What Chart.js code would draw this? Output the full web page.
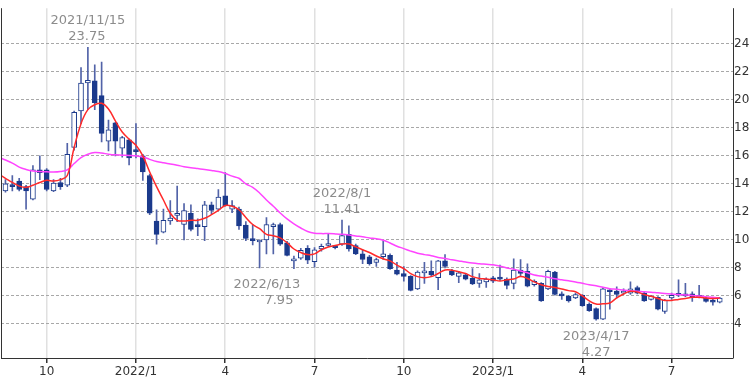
<!DOCTYPE html>
<html><head><meta charset="utf-8">
<script src="https://cdn.jsdelivr.net/npm/chart.js@4/dist/chart.umd.min.js"></script>
<style>html,body{margin:0;padding:0;background:#fff;}#wrap{width:750px;height:382px;}</style>
</head><body><div id="wrap"><canvas id="c" width="750" height="382"></canvas></div>
<script>
// Weekly candles, week 0 = 2021/8/23
const openP = [13.5,13.9,14.2,13.8,12.9,15.0,15.0,13.5,14.1,13.9,
16.6,19.2,21.2,21.35,20.3,17.05,18.35,16.55,17.15,16.4,
16.0,14.6,11.35,10.55,11.35,11.75,11.1,11.9,11.05,10.95,
12.5,12.2,13.15,12.2,12.2,11.05,10.1,9.85,10.0,10.95,
11.1,9.8,8.5,8.7,9.4,8.45,9.35,9.6,9.5,9.7,
10.4,9.6,9.0,8.8,8.4,8.8,8.9,7.85,7.6,7.4,
6.5,7.65,7.75,7.3,8.5,7.8,7.4,7.5,7.25,6.9,
7.0,7.3,7.25,7.2,6.9,7.85,7.75,6.8,6.9,6.5,
7.7,6.1,5.98,5.85,6.05,5.4,5.1,4.35,6.4,6.35,
6.2,6.2,6.6,6.2,5.75,5.9,4.9,5.85,6.05,6.05,
6.15,5.9,5.85,5.6,5.55];
const highP = [14.3,14.6,14.4,13.9,15.3,16.0,15.1,14.3,14.4,16.9,
19.2,22.3,23.75,22.5,22.7,18.55,18.4,17.4,17.2,18.3,
16.1,14.7,12.15,12.2,12.8,13.85,12.6,12.5,11.5,12.75,
12.7,13.6,14.8,12.8,12.35,11.3,11.1,10.0,11.6,11.2,
11.2,9.9,8.85,9.4,9.6,9.45,9.7,10.4,9.6,11.41,
11.0,9.7,9.3,8.9,8.7,9.95,9.0,8.4,8.1,7.45,
7.8,8.4,8.5,8.55,8.95,7.9,7.75,7.6,7.95,7.6,
7.3,7.4,8.2,7.3,8.65,8.6,8.3,7.15,6.95,7.85,
7.75,6.3,6.05,6.2,6.1,5.5,5.15,6.6,6.45,6.65,
6.5,7.0,6.7,6.25,6.05,5.95,5.75,6.2,7.15,6.9,
6.3,6.75,5.9,5.75,5.9];
const lowP = [13.4,13.5,13.5,12.2,12.85,14.3,13.5,13.45,13.6,13.8,
16.4,18.3,19.3,19.3,17.0,16.35,16.0,15.9,15.35,15.85,
14.25,11.8,9.7,10.5,11.1,11.3,10.0,10.65,10.3,9.95,
11.85,12.15,12.4,11.95,10.75,9.95,9.65,8.0,9.0,9.0,
9.6,8.85,7.95,8.6,8.3,8.05,9.2,9.55,9.35,9.6,
9.2,8.95,8.3,8.2,8.1,8.6,7.9,7.5,7.05,6.35,
6.45,6.9,7.4,6.45,8.0,7.45,6.95,7.15,6.8,6.6,
6.6,6.95,7.1,6.5,6.5,7.4,6.65,6.7,5.6,6.45,
6.05,5.75,5.55,5.8,5.25,4.9,4.27,4.3,5.05,5.85,
6.1,6.1,6.15,5.6,5.7,5.0,4.75,5.75,5.95,5.95,
5.6,5.85,5.55,5.35,5.5];
const closeP = [14.0,13.8,13.6,13.5,15.0,14.8,13.6,14.05,13.8,16.1,
19.1,21.2,21.4,19.8,17.6,17.85,17.05,17.3,15.85,16.3,
14.85,11.9,10.4,11.4,11.55,11.85,12.1,10.75,10.95,12.5,
12.1,13.05,12.45,12.45,11.0,10.1,9.95,9.95,11.1,11.1,
9.7,8.9,8.6,9.25,8.55,9.3,9.55,9.7,9.45,10.3,
9.35,9.0,8.6,8.3,8.6,9.0,7.95,7.55,7.4,6.4,
7.7,7.75,7.5,8.5,8.1,7.5,7.65,7.2,6.85,7.15,
7.2,7.05,7.2,6.75,7.85,7.6,6.7,7.05,5.65,7.75,
6.1,6.0,5.65,6.1,5.3,4.95,4.35,6.5,6.3,6.1,
6.35,6.5,6.2,5.65,5.98,5.05,5.7,6.05,6.1,6.0,
5.9,6.0,5.6,5.55,5.85];
// Moving averages, first value = week -1
const maShort = [14.7,14.4,14.1,13.85,13.75,13.9,14.1,14.25,14.2,14.3,
14.6,16.6,18.3,19.3,19.65,19.75,19.35,18.5,17.7,17.2,
16.75,16.0,14.85,13.8,12.85,11.9,11.4,11.35,11.4,11.4,
11.55,11.8,12.1,12.45,12.4,12.15,11.6,11.1,10.8,10.4,
10.3,10.15,9.8,9.35,9.1,8.95,9.0,9.3,9.5,9.6,
9.7,9.7,9.5,9.3,9.1,8.85,8.65,8.5,8.2,7.95,
7.6,7.38,7.3,7.38,7.6,7.85,7.84,7.73,7.6,7.38,
7.25,7.21,7.15,7.07,7.15,7.21,7.38,7.25,7.0,6.8,
6.68,6.6,6.5,6.38,6.3,6.0,5.65,5.42,5.44,5.5,
5.86,6.14,6.33,6.28,6.1,5.98,5.82,5.68,5.68,5.75,
5.82,5.9,5.9,5.86,5.82,5.86];
const maLong = [15.9,15.7,15.48,15.2,15.03,14.92,14.88,14.86,14.84,14.88,
15.0,15.45,15.88,16.12,16.24,16.2,16.12,16.07,16.05,16.03,
16.0,15.92,15.75,15.6,15.5,15.42,15.33,15.23,15.15,15.09,
15.03,14.96,14.88,14.74,14.55,14.4,14.0,13.75,13.35,12.85,
12.4,11.92,11.5,11.15,10.85,10.6,10.48,10.45,10.45,10.43,
10.4,10.35,10.28,10.22,10.14,10.08,9.98,9.78,9.55,9.38,
9.2,9.05,8.95,8.87,8.75,8.68,8.58,8.5,8.42,8.35,
8.3,8.26,8.22,8.12,8.0,7.9,7.78,7.65,7.5,7.42,
7.33,7.22,7.15,7.08,7.0,6.9,6.8,6.72,6.62,6.52,
6.48,6.42,6.37,6.34,6.3,6.27,6.22,6.18,6.14,6.1,
6.07,6.04,6.0,5.95,5.91,5.86];
const tickWeeks = [6,19,32,45,58,71,84,97];
const tickLabels = ['10','2022/1','4','7','10','2023/1','4','7'];
const yTickValues = [4,6,8,10,12,14,16,18,20,22,24];
const notes = [
  {week:12, date:'2021/11/15', kind:'high', shiftDate:0, shiftVal:-1},
  {week:42, date:'2022/6/13', kind:'low', shiftDate:-27, shiftVal:-15},
  {week:49, date:'2022/8/1', kind:'high', shiftDate:0, shiftVal:0},
  {week:86, date:'2023/4/17', kind:'low', shiftDate:0, shiftVal:0}
];

const NAVY = '#1b3a8c', WICK = '#5263a8';
const wickData = highP.map((h,i)=>({x:i, y:[lowP[i], h]}));
const bodyData = openP.map((o,i)=>({x:i, y:[o, closeP[i]]}));
const bodyFill = openP.map((o,i)=> closeP[i] >= o ? '#ffffff' : NAVY);
const shortData = maShort.map((v,i)=>({x:i-1, y:v}));
const longData = maLong.map((v,i)=>({x:i-1, y:v}));

const frame = {
  id:'frame',
  afterDraw(chart){
    const {ctx, chartArea:a} = chart;
    ctx.save();
    ctx.strokeStyle = '#333'; ctx.lineWidth = 1; ctx.setLineDash([]);
    ctx.beginPath();
    ctx.moveTo(a.left+0.5, a.top); ctx.lineTo(a.left+0.5, a.bottom);
    ctx.moveTo(a.right+0.5, a.top); ctx.lineTo(a.right+0.5, a.bottom);
    ctx.stroke();
    ctx.restore();
  }
};
const annot = {
  id:'annot',
  afterDatasetsDraw(chart){
    const {ctx, scales:{x, y}} = chart;
    ctx.save();
    ctx.font = '13px "DejaVu Sans"';
    ctx.fillStyle = '#8c8c8c';
    ctx.textAlign = 'center'; ctx.textBaseline = 'middle';
    notes.forEach(n => {
      const val = n.kind === 'high' ? highP[n.week] : lowP[n.week];
      const px = x.getPixelForValue(n.week);
      const py = y.getPixelForValue(val);
      if (n.kind === 'high') {
        ctx.fillText(n.date, px + n.shiftDate, py - 27);
        ctx.fillText(val.toFixed(2), px + n.shiftVal, py - 11);
      } else {
        ctx.fillText(n.date, px + n.shiftDate, py + 16);
        ctx.fillText(val.toFixed(2), px + n.shiftVal, py + 32);
      }
    });
    ctx.restore();
  }
};

new Chart(document.getElementById('c'), {
  type:'bar',
  data:{ datasets:[
    {type:'line', data:shortData, borderColor:'#ff2a2a', borderWidth:1.5, pointRadius:0, tension:0.4, order:0},
    {type:'line', data:longData, borderColor:'#ff44ff', borderWidth:1.5, pointRadius:0, tension:0.4, order:0},
    {data:bodyData, backgroundColor:bodyFill, borderColor:NAVY, borderWidth:1, borderSkipped:false, barThickness:5, grouped:false, minBarLength:2, order:1},
    {data:wickData, backgroundColor:WICK, borderWidth:0, barThickness:1, grouped:false, order:2}
  ]},
  options:{
    responsive:false, animation:false, devicePixelRatio:1,
    layout:{padding:{left:1, top:1, right:0, bottom:0}},
    plugins:{legend:{display:false}, tooltip:{enabled:false}},
    scales:{
      x:{type:'linear', min:-0.65, max:105.93, offset:false,
        afterBuildTicks:(ax)=>{ ax.ticks = tickWeeks.map(v=>({value:v})); },
        afterFit:(ax)=>{ ax.height = 24; },
        ticks:{autoSkip:false, maxRotation:0, color:'#333', font:{family:'DejaVu Sans', size:12}, padding:2,
          callback:(v)=>{ const k = tickWeeks.indexOf(v); return k>=0 ? tickLabels[k] : ''; }},
        grid:{color:'#e0e0e0', lineWidth:1.5, tickLength:5, tickColor:'#333', offset:false},
        border:{color:'#333', width:1}
      },
      y:{type:'linear', position:'right', min:1.57, max:26.54,
        afterBuildTicks:(ax)=>{ ax.ticks = yTickValues.map(v=>({value:v})); },
        afterFit:(ax)=>{ ax.width = 17; },
        ticks:{color:'#333', font:{family:'DejaVu Sans', size:12}, padding:1},
        grid:{color:'#a8a8a8', lineWidth:1, drawTicks:false},
        border:{display:false, dash:[3,2]}
      }
    }
  },
  plugins:[frame, annot]
});
</script></body></html>
